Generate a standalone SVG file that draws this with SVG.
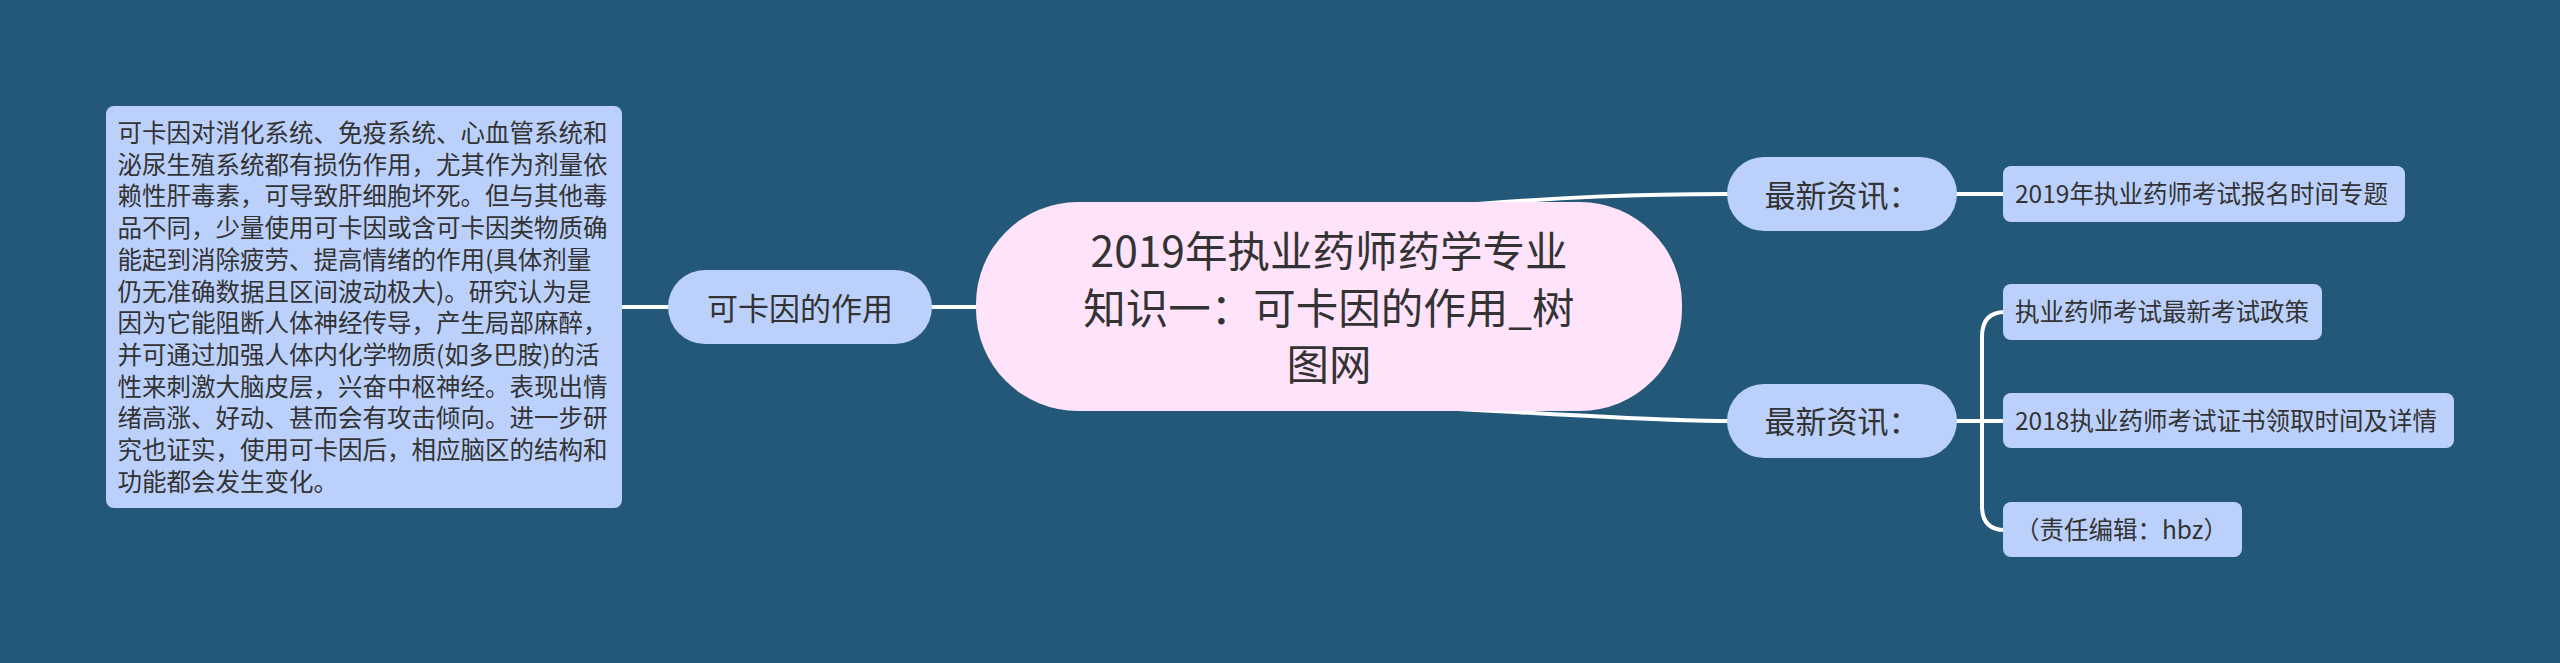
<svg xmlns="http://www.w3.org/2000/svg" width="2560" height="663" viewBox="0 0 2560 663">
<style>
text{font-family:"Noto Sans CJK SC","Noto Sans",sans-serif;fill:#333333}
.l1{fill:#bbd1fb}
.ctr{fill:#ffe3fb}
.leaf{fill:#bbd1fb}
.t1{font-size:31px}
.t2{font-size:24.5px}
.tc{font-size:42.5px}
.con{fill:none;stroke:#ffffff;stroke-width:4;stroke-linecap:round}
</style>
<rect width="2560" height="663" fill="#235879"/>
<g id="connectors">
<path class="con" d="M1420,209 C1560,196 1650,194 1727,194"/>
<path class="con" d="M1420,407 C1560,414 1650,421 1727,421"/>
<path class="con" d="M932,307 H990"/>
<path class="con" d="M622,307 H668"/>
<path class="con" d="M1957,194 H2003"/>
<path class="con" d="M1957,421 H2003"/>
<path class="con" d="M1982,421 V337 Q1982,312 2005,312"/>
<path class="con" d="M1982,421 V506 Q1982,530 2005,530"/>
</g>
<g id="center">
<rect class="ctr" x="976" y="202" width="706" height="209" rx="102" ry="102"/>
<text class="tc" x="1329" y="267" text-anchor="middle">2019年执业药师药学专业</text>
<text class="tc" x="1329" y="323.5" text-anchor="middle">知识一：可卡因的作用_树</text>
<text class="tc" x="1329" y="380" text-anchor="middle">图网</text>
</g>
<g id="n-kakayin">
<rect class="l1" x="668" y="270" width="264" height="74" rx="37" ry="37"/>
<text class="t1" x="800" y="320" text-anchor="middle">可卡因的作用</text>
</g>
<g id="n-desc">
<rect class="leaf" x="106" y="106" width="516" height="402" rx="8" ry="8"/>
<text class="t2" x="117.5" y="142">可卡因对消化系统、免疫系统、心血管系统和</text>
<text class="t2" x="117.5" y="173.7">泌尿生殖系统都有损伤作用，尤其作为剂量依</text>
<text class="t2" x="117.5" y="205.4">赖性肝毒素，可导致肝细胞坏死。但与其他毒</text>
<text class="t2" x="117.5" y="237.1">品不同，少量使用可卡因或含可卡因类物质确</text>
<text class="t2" x="117.5" y="268.8">能起到消除疲劳、提高情绪的作用(具体剂量</text>
<text class="t2" x="117.5" y="300.5">仍无准确数据且区间波动极大)。研究认为是</text>
<text class="t2" x="117.5" y="332.2">因为它能阻断人体神经传导，产生局部麻醉，</text>
<text class="t2" x="117.5" y="363.9">并可通过加强人体内化学物质(如多巴胺)的活</text>
<text class="t2" x="117.5" y="395.6">性来刺激大脑皮层，兴奋中枢神经。表现出情</text>
<text class="t2" x="117.5" y="427.3">绪高涨、好动、甚而会有攻击倾向。进一步研</text>
<text class="t2" x="117.5" y="459">究也证实，使用可卡因后，相应脑区的结构和</text>
<text class="t2" x="117.5" y="490.7">功能都会发生变化。</text>
</g>
<g id="n-news1">
<rect class="l1" x="1727" y="157" width="230" height="74" rx="37" ry="37"/>
<text class="t1" x="1842" y="207" text-anchor="middle">最新资讯：</text>
</g>
<g id="n-news1-a">
<rect class="leaf" x="2003" y="166" width="402" height="56" rx="8" ry="8"/>
<text class="t2" x="2015" y="203">2019年执业药师考试报名时间专题</text>
</g>
<g id="n-news2">
<rect class="l1" x="1727" y="384" width="230" height="74" rx="37" ry="37"/>
<text class="t1" x="1842" y="433" text-anchor="middle">最新资讯：</text>
</g>
<g id="n-news2-a">
<rect class="leaf" x="2003" y="284" width="319" height="56" rx="8" ry="8"/>
<text class="t2" x="2015" y="321">执业药师考试最新考试政策</text>
</g>
<g id="n-news2-b">
<rect class="leaf" x="2003" y="393" width="451" height="55" rx="8" ry="8"/>
<text class="t2" x="2015" y="430">2018执业药师考试证书领取时间及详情</text>
</g>
<g id="n-news2-c">
<rect class="leaf" x="2003" y="502" width="239" height="55" rx="8" ry="8"/>
<text class="t2" x="2015" y="539">（责任编辑：hbz）</text>
</g>
</svg>
